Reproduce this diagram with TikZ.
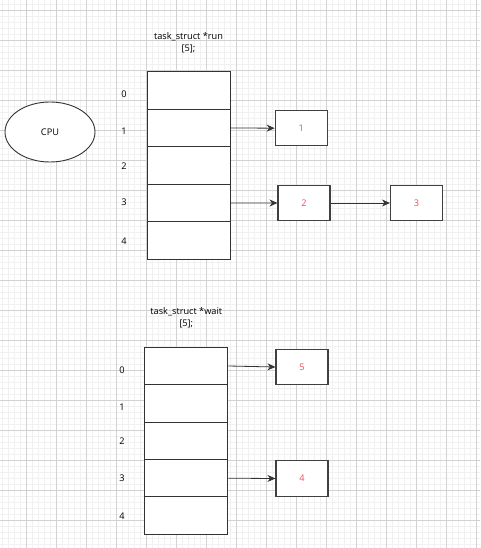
\documentclass[tikz,border=0pt]{standalone}
\usepackage{fontspec}
\setmainfont{Open Sans}
\usetikzlibrary{arrows.meta,shapes.geometric}
\definecolor{minorgrid}{RGB}{241,241,241}
\definecolor{majorgrid}{RGB}{210,210,210}
\definecolor{numred}{RGB}{238,78,92}
\begin{document}
\begin{tikzpicture}[x=1pt,y=-1pt,
  cell/.style={draw=black!80,line width=1.1pt,fill=white,minimum width=83pt,minimum height=37.5pt,inner sep=0pt},
  item/.style={draw=black!75,line width=1.1pt,fill=white,minimum width=52pt,minimum height=35.5pt,inner sep=0pt,font=\fontsize{9.2}{11}\selectfont,text=numred},
  idx/.style={font=\fontsize{9.2}{11}\selectfont,inner sep=0pt},
  title/.style={font=\fontsize{9.2}{11.5}\selectfont,align=center,inner sep=0pt},
  link/.style={draw=black!80,line width=0.8pt,-{Stealth[length=8pt,width=7pt]}}
]
\useasboundingbox (0,0) rectangle (480,548);
\fill[white] (0,0) rectangle (480,548);
% grid
\foreach \x in {2.7,8.7,...,480} {\draw[minorgrid,line width=1pt] (\x,0) -- (\x,548);}
\foreach \y in {4.7,10.7,...,548} {\draw[minorgrid,line width=1pt] (0,\y) -- (480,\y);}
\foreach \x in {26.7,56.7,...,480} {\draw[majorgrid,line width=1pt] (\x,0) -- (\x,548);}
\foreach \y in {10.7,40.7,...,548} {\draw[majorgrid,line width=1pt] (0,\y) -- (480,\y);}

% CPU
\node[draw=black!80,line width=0.9pt,fill=white,ellipse,minimum width=90pt,minimum height=60pt,inner sep=0pt,font=\fontsize{9.2}{11}\selectfont] (cpu) at (50,132) {CPU};

% run array
\node[title] (runtitle) at (188.5,42.5) {task\_struct *run\\{}[5];};
\foreach \i/\y in {0/90.45,1/127.95,2/165.45,3/202.95,4/240.45} {
  \node[cell] (r\i) at (188.8,\y) {};
}
\node[idx] (rl0) at (124,94.3) {0};
\node[idx] (rl1) at (124,131.7) {1};
\node[idx] (rl2) at (124,165.7) {2};
\node[idx] (rl3) at (124,202.7) {3};
\node[idx] (rl4) at (124,240.7) {4};

\node[item] (n1) at (301.2,128.2) {1};
\node[item] (n2) at (304,203) {2};
\node[item] (n3) at (416.5,203) {3};

\draw[link] (r1.east) -- (n1.west);
\draw[link] (r3.east) -- (n2.west);
\draw[link] (n2.east) -- (n3.west);

% wait array
\node[title] (waittitle) at (186.3,317.5) {task\_struct *wait\\{}[5];};
\foreach \i/\y in {0/366,1/403.4,2/440.8,3/478.2,4/515.6} {
  \node[cell,minimum height=37.4pt] (w\i) at (186.3,\y) {};
}
\node[idx] (wl0) at (122,370) {0};
\node[idx] (wl1) at (122,407) {1};
\node[idx] (wl2) at (122,440.7) {2};
\node[idx] (wl3) at (122,478.7) {3};
\node[idx] (wl4) at (122,515.7) {4};

\node[item] (n5) at (302,367) {5};
\node[item] (n4) at (302,478.5) {4};

\draw[link] (w0.east) -- (n5.west);
\draw[link] (w3.east) -- (n4.west);
\end{tikzpicture}
\end{document}
